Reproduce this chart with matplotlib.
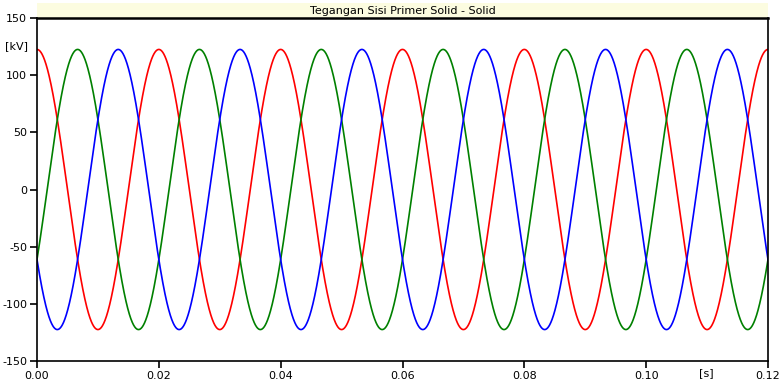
import numpy as np
import matplotlib

matplotlib.use("Agg")
from matplotlib import pyplot as plt
from matplotlib.patches import Rectangle

# values (three-phase voltage, primary side)
title = "Tegangan Sisi Primer Solid - Solid"
amplitude_kv = 122.5
freq_hz = 50.0
phase_names = ["A", "B", "C"]
phase_deg = [0.0, -120.0, 120.0]
phase_colors = ["#ff0000", "#008000", "#0000ff"]
t_end = 0.12
x_ticks = [0.0, 0.02, 0.04, 0.06, 0.08, 0.10, 0.12]
y_ticks = [-150, -100, -50, 0, 50, 100, 150]

t = np.linspace(0.0, t_end, 3000)

fig = plt.figure(figsize=(7.81, 3.84), dpi=100)
ax = fig.add_axes([37 / 781, 1 - 361 / 384, (768 - 37) / 781, (361 - 18) / 384])

for name, ph, col in zip(phase_names, phase_deg, phase_colors):
    v = amplitude_kv * np.cos(2 * np.pi * freq_hz * t + np.deg2rad(ph))
    ax.plot(t, v, color=col, linewidth=1.2, label=name)

ax.set_xlim(0, t_end)
ax.set_ylim(-150, 150)
ax.set_xticks(x_ticks, [f"{x:.2f}" for x in x_ticks])
ax.set_yticks(y_ticks, [str(y) for y in y_ticks])
ax.tick_params(direction="out", length=5, width=1.2, labelsize=8, pad=2)
for side in ["left", "bottom", "right", "top"]:
    ax.spines[side].set_linewidth(1.2)
ax.spines["top"].set_linewidth(1.8)

# unit labels placed like tick labels
ax.text(-0.012, 0.918, "[kV]", transform=ax.transAxes, ha="right", va="center", fontsize=8)
ax.text(0.915, -7 / 343, "[s]", transform=ax.transAxes, ha="center", va="top", fontsize=8)

# title strip above the plot
ax.add_patch(Rectangle((0, 1.0), 1, 15 / 343, transform=ax.transAxes,
                       facecolor="#fcfce0", edgecolor="none", clip_on=False))
ax.text(0.5, 1.0 + 7.5 / 343, title, transform=ax.transAxes,
        ha="center", va="center", fontsize=8)

fig.savefig("out.png", dpi=100)
